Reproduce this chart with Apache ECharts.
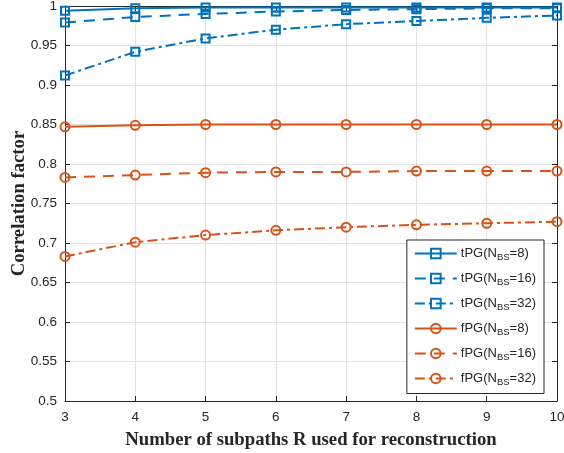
<!DOCTYPE html>
<html><head><meta charset="utf-8">
<script src="https://cdn.jsdelivr.net/npm/echarts@6/dist/echarts.min.js"></script>
<style>html,body{margin:0;padding:0;background:#fff}#c{width:564px;height:453px}</style>
</head><body><div id="c"></div>
<script>
const xValues = [3, 4, 5, 6, 7, 8, 9, 10];
const tPG8  = [0.994, 0.997, 0.998, 0.998, 0.998, 0.998, 0.998, 0.998];
const tPG16 = [0.979, 0.986, 0.990, 0.993, 0.995, 0.996, 0.997, 0.997];
const tPG32 = [0.912, 0.942, 0.959, 0.970, 0.977, 0.981, 0.985, 0.988];
const fPG8  = [0.847, 0.849, 0.850, 0.850, 0.850, 0.850, 0.850, 0.850];
const fPG16 = [0.783, 0.786, 0.789, 0.790, 0.790, 0.791, 0.791, 0.791];
const fPG32 = [0.683, 0.701, 0.710, 0.716, 0.720, 0.723, 0.725, 0.727];
const seriesNames = ['tPG(N{s|BS}=8)', 'tPG(N{s|BS}=16)', 'tPG(N{s|BS}=32)', 'fPG(N{s|BS}=8)', 'fPG(N{s|BS}=16)', 'fPG(N{s|BS}=32)'];
const xTitle = 'Number of subpaths R used for reconstruction';
const yTitle = 'Correlation factor';

const BLUE = '#0072BD', ORANGE = '#D95319';
const AX = '#262626';
const dashed = [11, 8];
const dashDot = [10, 4, 3, 4];
function mk(name, data, color, sym, ltype) {
  return {
    name: name, type: 'line', data: xValues.map((x, i) => [x, data[i]]),
    color: color, symbol: sym, symbolSize: sym === 'rect' ? 8 : 9,
    clip: false, showSymbol: true,
    lineStyle: { color: color, width: 2, type: ltype },
    itemStyle: { color: 'rgba(255,255,255,0)', borderColor: color, borderWidth: 2 },
    emphasis: { disabled: true }, animation: false
  };
}
const chart = echarts.init(document.getElementById('c'));
chart.setOption({
  animation: false,
  grid: { left: 65, right: 7, top: 6, bottom: 52, containLabel: false, outerBoundsMode: 'none' },
  xAxis: [{
    type: 'value', min: 3, max: 10, interval: 1,
    name: xTitle, nameLocation: 'middle', nameGap: 30, nameMoveOverlap: false,
    nameTextStyle: { fontFamily: 'Liberation Serif', fontWeight: 'bold', fontSize: 18.7, color: AX },
    axisLine: { show: true, onZero: false, lineStyle: { color: AX, width: 1 } },
    axisTick: { show: true, inside: true, length: 5, lineStyle: { color: AX } },
    axisLabel: { fontFamily: 'Liberation Sans', fontSize: 13.5, color: AX, margin: 9 },
    splitLine: { show: true, lineStyle: { color: '#e3e3e3', width: 1 } }
  }, {
    type: 'value', min: 3, max: 10, interval: 1, position: 'top',
    axisLine: { show: true, onZero: false, lineStyle: { color: AX, width: 1 } },
    axisTick: { show: true, inside: true, length: 5, lineStyle: { color: AX } },
    axisLabel: { show: false }, splitLine: { show: false }
  }],
  yAxis: [{
    type: 'value', min: 0.5, max: 1, interval: 0.05,
    name: yTitle, nameLocation: 'middle', nameGap: 36, nameRotate: 90, nameMoveOverlap: false,
    nameTextStyle: { fontFamily: 'Liberation Serif', fontWeight: 'bold', fontSize: 18.7, color: AX },
    axisLine: { show: true, onZero: false, lineStyle: { color: AX, width: 1 } },
    axisTick: { show: true, inside: true, length: 5, lineStyle: { color: AX } },
    axisLabel: { fontFamily: 'Liberation Sans', fontSize: 13.5, color: AX, margin: 8 },
    splitLine: { show: true, lineStyle: { color: '#e3e3e3', width: 1 } }
  }, {
    type: 'value', min: 0.5, max: 1, interval: 0.05, position: 'right',
    axisLine: { show: true, onZero: false, lineStyle: { color: AX, width: 1 } },
    axisTick: { show: true, inside: true, length: 5, lineStyle: { color: AX } },
    axisLabel: { show: false }, splitLine: { show: false }
  }],
  legend: {
    orient: 'vertical', right: 20, top: 240,
    backgroundColor: '#fff', borderColor: AX, borderWidth: 1, borderRadius: 0,
    padding: [7, 8, 6, 7], itemGap: 9.5, itemWidth: 42, itemHeight: 12,
    data: seriesNames,
    textStyle: {
      fontFamily: 'Liberation Sans', fontSize: 13, color: AX, padding: [0, 0, 0, -1],
      rich: { s: { fontFamily: 'Liberation Sans', fontSize: 9.5, color: AX, verticalAlign: 'bottom', padding: [8, 0, 0, 0] } }
    },
    selectedMode: false
  },
  series: [
    mk(seriesNames[0], tPG8, BLUE, 'rect', 'solid'),
    mk(seriesNames[1], tPG16, BLUE, 'rect', dashed),
    mk(seriesNames[2], tPG32, BLUE, 'rect', dashDot),
    mk(seriesNames[3], fPG8, ORANGE, 'circle', 'solid'),
    mk(seriesNames[4], fPG16, ORANGE, 'circle', dashed),
    mk(seriesNames[5], fPG32, ORANGE, 'circle', dashDot)
  ]
});
</script></body></html>
